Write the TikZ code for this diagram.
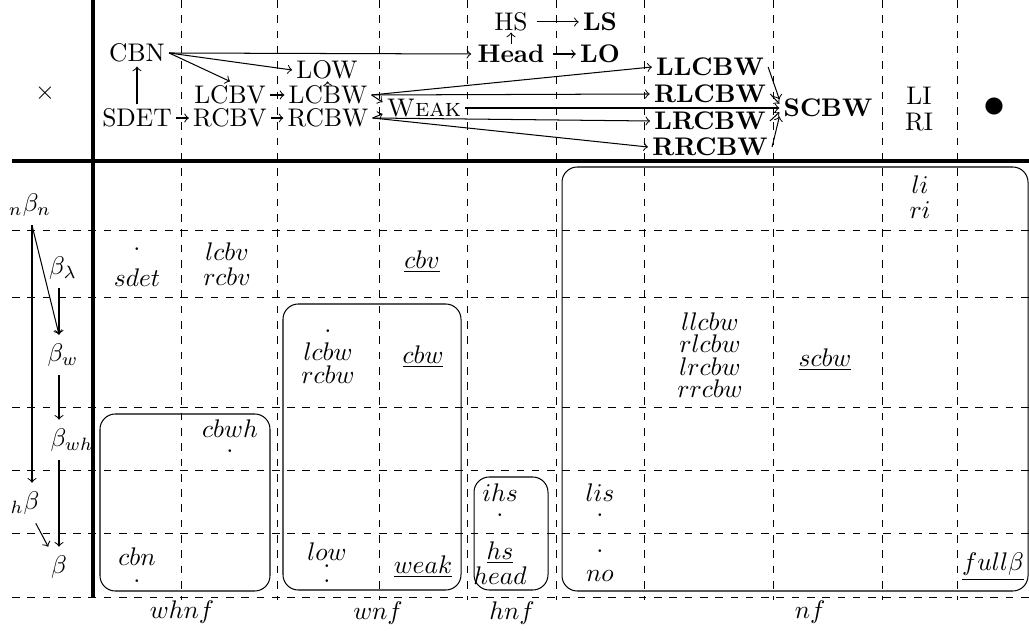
\documentclass[tikz,border=0pt]{standalone}
\usepackage{amsmath,amssymb}
\usepackage{tikz}
\usetikzlibrary{arrows,positioning,calc}

\tikzset{
  lbl/.style={inner sep=1.5pt},
  grid/.style={dashed,line width=0.35pt},
  nfbox/.style={rounded corners=6pt},
}

\begin{document}
\begin{tikzpicture}[x=0.0138cm,y=-0.0138cm]
  \useasboundingbox (0,0) rectangle (1029,631);

  % 格子
  \foreach \x in {181,277,379,467,556,644,773,882,957}
    \draw[grid] (\x,0) -- (\x,600);
  \foreach \y in {230,297,407,470,533,597}
    \draw[grid] (12,\y) -- (1029,\y);
  \draw[very thick] (12,161) -- (1029,161);
  \draw[very thick] (93,0) -- (93,597);

  % 見出し
  \node (times) at (45,93) {$\times$};
  \node[lbl] (cbn) at (137,53) {CBN};
  \node[lbl] (sdet) at (137,118) {SDET};
  \node[lbl] (lcbv) at (230,95) {LCBV};
  \node[lbl] (rcbv) at (230,118) {RCBV};
  \node[lbl] (low) at (327,70) {LOW};
  \node[lbl] (lcbw) at (328,95) {LCBW};
  \node[lbl] (rcbw) at (328,118) {RCBW};
  \node[lbl] (weak) at (424,108) {\textsc{Weak}};
  \node[inner sep=0.3pt] (hs) at (511,22) {HS};
  \node[inner sep=0.3pt] (head) at (511,54) {\textbf{Head}};
  \node[lbl] (ls) at (600,22) {\textbf{LS}};
  \node[lbl] (lo) at (600,54) {\textbf{LO}};
  \node[lbl] (llcbw) at (710,67) {\textbf{LLCBW}};
  \node[lbl] (rlcbw) at (710,94) {\textbf{RLCBW}};
  \node[lbl] (lrcbw) at (710,121) {\textbf{LRCBW}};
  \node[lbl] (rrcbw) at (710,147) {\textbf{RRCBW}};
  \node[lbl] (scbw) at (828,108) {\textbf{SCBW}};
  \node[lbl] (li) at (919,96) {LI};
  \node[lbl] (ri) at (919,122) {RI};
  \node (full) at (994,108) {\LARGE$\bullet$};

  \draw[->] (sdet) -- (cbn);
  \draw[->] (sdet) -- (rcbv);
  \draw[->] (rcbv) -- (rcbw);
  \draw[->] (lcbv) -- (lcbw);
  \draw[->] (low) -- (lcbw);
  \draw[->] (cbn.east) -- (lcbv.north);
  \draw[->] (cbn.east) -- (low.west);
  \draw[->] (cbn.east) -- ([xshift=-2pt]head.west);
  \draw[->] (head) -- (hs);
  \draw[->] ([xshift=3pt]hs.east) -- (ls);
  \draw[->] ([xshift=3pt]head.east) -- (lo);
  \draw[->] (lcbw.east) -- (llcbw.west);
  \draw[->] (lcbw.east) -- (rlcbw.west);
  \draw[->] (lcbw.east) -- (weak.172);
  \draw[->] (rcbw.east) -- (weak.188);
  \draw[->] (rcbw.east) -- (lrcbw.west);
  \draw[->] (rcbw.east) -- (rrcbw.west);
  \draw[->] (weak) -- (scbw);
  \draw[->] (llcbw.east) -- (scbw.170);
  \draw[->] (rlcbw.east) -- (scbw.175);
  \draw[->] (lrcbw.east) -- (scbw.185);
  \draw[->] (rrcbw.east) -- (scbw.190);

  % 簡約の列
  \node (bnn) at (30,205) {${}_n\beta_n$};
  \node (blam) at (63,268) {$\beta_\lambda$};
  \node (bw) at (63,355) {$\beta_w$};
  \node (bwh) at (72,440) {$\beta_{wh}$};
  \node (hb) at (25,503) {${}_h\beta$};
  \node (b) at (59,567) {$\beta$};
  \coordinate (nline) at (32,0);

  \draw[->] (bnn.south -| nline) -- (hb.north -| nline);
  \draw[->] (bnn.south -| nline) -- (bw.north -| b);
  \draw[->] (blam.south -| b) -- (bw.north -| b);
  \draw[->] (bw.south -| b) -- (bwh.north -| b);
  \draw[->] (bwh.south -| b) -- (b);
  \draw[->] (hb) -- (b);

  % 表の中身
  \node[lbl] (li2) at (920,185) {$li$};
  \node[lbl] (ri2) at (920,210) {$ri$};
  \node[lbl] (dsdet) at (137,249) {.};
  \node[lbl] (sdet2) at (137,278) {$sdet$};
  \node[lbl] (lcbv2) at (227,252) {$lcbv$};
  \node[lbl] (rcbv2) at (227,277) {$rcbv$};
  \node[lbl] (cbv) at (422,262) {$\underline{cbv}$};
  \node[lbl] (dlcbw) at (328,331) {.};
  \node[lbl] (lcbw2) at (328,352) {$lcbw$};
  \node[lbl] (rcbw2) at (328,375) {$rcbw$};
  \node[lbl] (cbw) at (423,357) {$\underline{cbw}$};
  \node[lbl] (llcbw2) at (710,322) {$llcbw$};
  \node[lbl] (rlcbw2) at (710,344) {$rlcbw$};
  \node[lbl] (lrcbw2) at (710,367) {$lrcbw$};
  \node[lbl] (rrcbw2) at (710,389) {$rrcbw$};
  \node[lbl] (scbw2) at (825,360) {$\underline{scbw}$};
  \node[lbl] (cbwh) at (230,429) {$cbwh$};
  \node[lbl] (dcbwh) at (230,451) {.};
  \node[lbl] (ihs) at (500,493) {$ihs$};
  \node[lbl] (dihs) at (500,515) {.};
  \node[lbl] (lis) at (600,493) {$lis$};
  \node[lbl] (dlis) at (600,515) {.};
  \node[lbl] (cbn2) at (137,557) {$cbn$};
  \node[lbl] (dcbn) at (137,581) {.};
  \node[lbl] (low2) at (327,552) {$low$};
  \node[lbl] (dlowa) at (327,566) {.};
  \node[lbl] (dlowb) at (327,581) {.};
  \node[lbl] (weak2) at (423,567) {$\underline{weak}$};
  \node[lbl] (hs2) at (500,553) {$\underline{hs}$};
  \node[lbl] (head2) at (500,576) {$head$};
  \node[lbl] (dno) at (600,551) {.};
  \node[lbl] (no) at (600,576) {$no$};
  \node[lbl] (fullb) at (993,567) {$\underline{full\beta}$};

  % 正規形の枠
  \draw[nfbox] (100,414) rectangle (270,591);
  \draw[nfbox] (283,304) rectangle (461,590);
  \draw[nfbox] (474,477) rectangle (548,590);
  \draw[nfbox] (562,167) rectangle (1028,591);

  \node (whnf) at (182,612) {$whnf$};
  \node (wnf) at (378,613) {$wnf$};
  \node (hnf) at (512,613) {$hnf$};
  \node (nf) at (810,612) {$nf$};
\end{tikzpicture}
\end{document}
